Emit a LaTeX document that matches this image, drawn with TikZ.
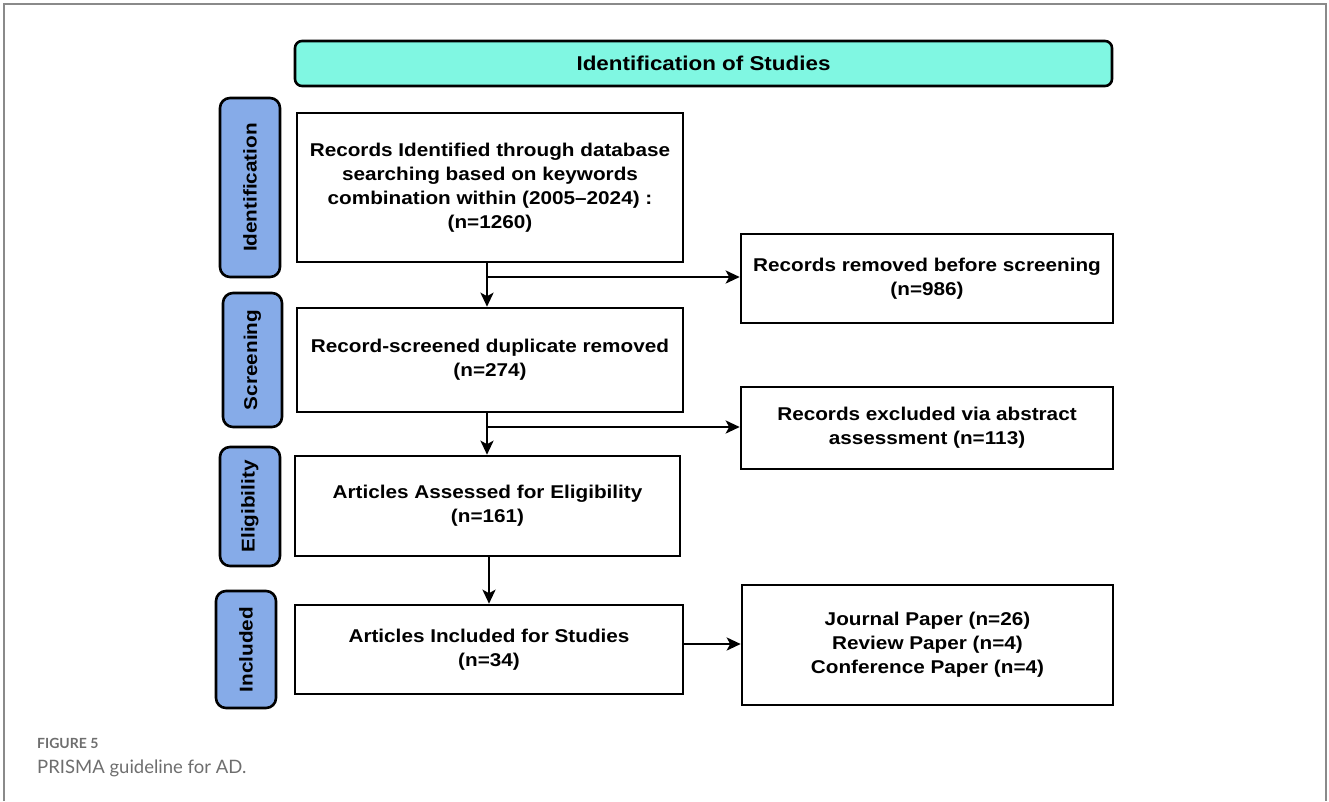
\documentclass[tikz,border=0pt]{standalone}
\usepackage{fontspec}
\usetikzlibrary{arrows.meta}
\newfontfamily\boxfont[FakeStretch=1.12]{Liberation Sans}
\newfontfamily\capfont{Lato}
\definecolor{headfill}{HTML}{80F7E2}
\definecolor{phasefill}{HTML}{86ABE8}
\definecolor{framegray}{HTML}{8A8A8A}
\definecolor{captiongray}{HTML}{6E6E6E}
\tikzset{
  flowbox/.style={draw=black, line width=2.6pt, fill=white, align=center, inner sep=0pt,
    font=\boxfont\bfseries\fontsize{18.5}{24}\selectfont},
  phase/.style={draw=black, line width=2.6pt, fill=phasefill, rounded corners=10pt,
    rotate=90, inner sep=0pt, font=\boxfont\bfseries\fontsize{18.5}{24}\selectfont},
  headbox/.style={draw=black, line width=2.6pt, fill=headfill, rounded corners=7pt,
    inner sep=0pt, font=\boxfont\bfseries\fontsize{20}{24}\selectfont},
  flow/.style={line width=2.5pt, -{Stealth[length=14pt,width=13pt,inset=3.5pt]}}
}
\begin{document}
\begin{tikzpicture}[x=1pt,y=-1pt]
\useasboundingbox (0,0) rectangle (1329,801);
% page frame
\draw[framegray, line width=1.5pt] (4,801) -- (4,4) -- (1326,4) -- (1326,801);

% title bar
\node[headbox, minimum width=817pt, minimum height=45pt] (head) at (703.5,63.5) {Identification of Studies};

% phase labels
\node[phase, minimum width=179pt, minimum height=60pt] (idlab) at (250,187.5) {Identification};
\node[phase, minimum width=134pt, minimum height=59pt] (scrlab) at (252.5,360) {Screening};
\node[phase, minimum width=119pt, minimum height=60pt] (elilab) at (250,506.5) {Eligibility};
\node[phase, minimum width=117pt, minimum height=60pt] (inclab) at (246,649.5) {Included};

% main column
\node[flowbox, minimum width=386pt, minimum height=149pt] (b1) at (490,187.5)
  {Records Identified through database\\searching based on keywords\\combination within (2005–2024) :\\(n=1260)};
\node[flowbox, minimum width=386pt, minimum height=104pt] (b2) at (490,360)
  {Record-screened duplicate removed\\(n=274)};
\node[flowbox, minimum width=385pt, minimum height=100pt] (b3) at (487.5,506)
  {Articles Assessed for Eligibility\\(n=161)};
\node[flowbox, minimum width=388pt, minimum height=89pt] (b4) at (489,649.5)
  {Articles Included for Studies\\(n=34)};

% side column
\node[flowbox, minimum width=372pt, minimum height=89pt] (r1) at (927,278.5)
  {Records removed before screening\\(n=986)};
\node[flowbox, minimum width=372pt, minimum height=82pt] (r2) at (927,428)
  {Records excluded via abstract\\assessment (n=113)};
\node[flowbox, minimum width=371pt, minimum height=120pt] (r3) at (927.5,645)
  {Journal Paper (n=26)\\Review Paper (n=4)\\Conference Paper (n=4)};

% connectors
\coordinate (j1) at (487,277);
\coordinate (j2) at (487,427);
\coordinate (c3) at (489,0);
\coordinate (c4) at (0,644);
\draw[flow] (b1.south -| j1) -- (b2.north -| j1);
\draw[flow] (j1) -- (r1.west |- j1);
\draw[flow] (b2.south -| j2) -- (b3.north -| j2);
\draw[flow] (j2) -- (r2.west |- j2);
\draw[flow] (b3.south -| c3) -- (b4.north -| c3);
\draw[flow] (b4.east |- c4) -- (r3.west |- c4);

% caption
\node[anchor=base west, inner sep=0pt, text=captiongray, font=\capfont\bfseries\fontsize{14}{16}\selectfont] (fig) at (37,748) {FIGURE 5};
\node[anchor=base west, inner sep=0pt, text=captiongray, font=\capfont\fontsize{18.5}{21}\selectfont] (cap) at (37,773.5) {PRISMA guideline for AD.};
\end{tikzpicture}
\end{document}
